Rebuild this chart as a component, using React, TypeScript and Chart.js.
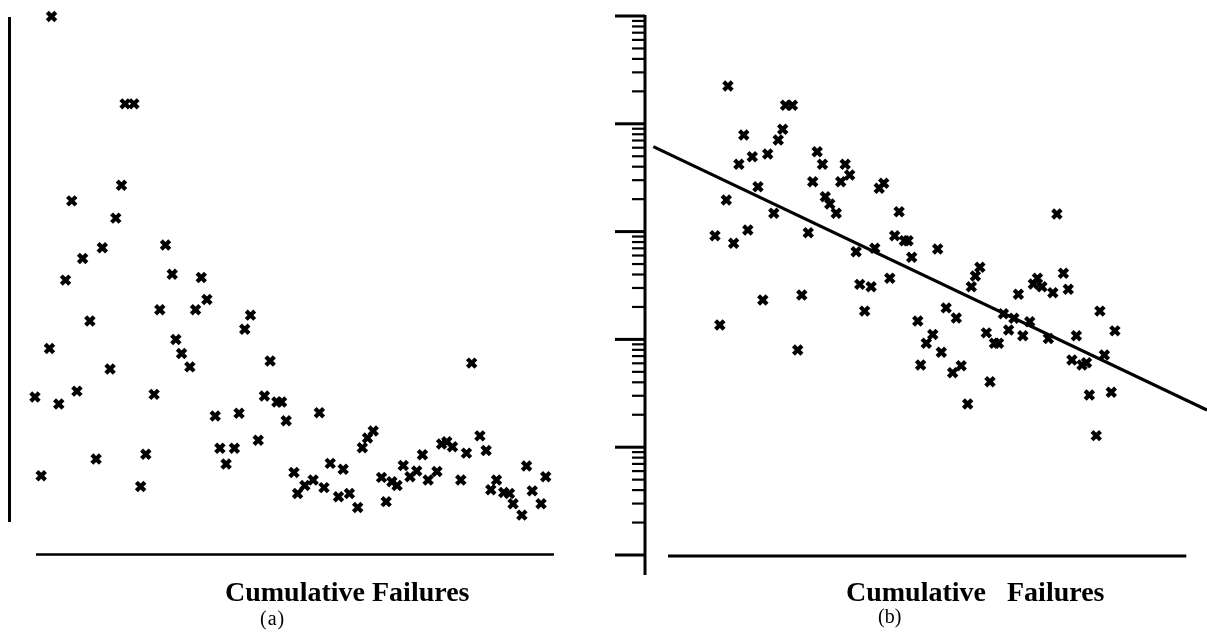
import { useEffect, useRef } from "react";
import { Chart, registerables } from "chart.js";

Chart.register(...registerables);

// Failure index along the horizontal axis (shared by both panels)
const cumulativeFailures = [
  -0.2, 1.0, 2.6, 3.0, 4.4, 5.7, 6.9, 7.9, 9.0, 10.4,
  11.6, 12.8, 14.3, 15.4, 16.5, 17.2, 18.9, 20.2, 21.2, 22.8,
  23.9, 25.0, 26.3, 27.0, 28.1, 29.7, 30.8, 31.9, 33.0, 34.6,
  35.5, 36.7, 38.3, 39.2, 40.3, 41.4, 42.9, 44.1, 45.2, 46.5,
  47.4, 48.3, 49.8, 50.5, 51.9, 53.5, 54.7, 55.6, 56.8, 58.4,
  59.3, 60.5, 62.1, 63.0, 64.0, 65.1, 66.7, 67.6, 68.7, 69.7,
  70.9, 72.2, 73.5, 74.6, 75.7, 77.4, 78.3, 79.3, 80.4, 82.0,
  83.1, 84.1, 85.7, 86.9, 87.8, 88.9, 90.3, 91.4, 92.1, 93.8,
  94.7, 95.8, 97.5, 98.4,
];

// Panel (a): values on a linear scale
const linearValues = [
  29.3, 14.7, 38.3, 99.9, 28.0, 51.0, 65.7, 30.4, 55.0, 43.4,
  17.8, 57.0, 34.5, 62.5, 68.6, 83.7, 83.7, 12.7, 18.7, 29.8,
  45.5, 57.5, 52.1, 40.0, 37.4, 34.9, 45.5, 51.5, 47.4, 25.8,
  19.8, 16.9, 19.8, 26.3, 41.9, 44.5, 21.3, 29.5, 36.0, 28.4,
  28.4, 24.9, 15.3, 11.4, 12.9, 13.9, 26.4, 12.5, 17.0, 10.8,
  15.9, 11.4, 8.8, 19.9, 21.7, 23.0, 14.4, 9.9, 13.6, 12.9,
  16.6, 14.5, 15.6, 18.6, 13.9, 15.5, 20.6, 21.0, 20.1, 13.9,
  18.9, 35.6, 22.1, 19.4, 12.1, 13.9, 11.6, 11.4, 9.5, 7.4,
  16.5, 11.9, 9.5, 14.5,
];

// Panel (b): values on a logarithmic scale
const logValues = [
  916, 136, 1963, 22430, 779, 4210, 7875, 1035, 4955, 2608,
  232, 5248, 1479, 7079, 8892, 14860, 14860, 79.8, 258, 977,
  2904, 5510, 4210, 2108, 1803, 1479, 2904, 4210, 3350, 651,
  324, 183, 308, 700, 2523, 2805, 369, 916, 1531, 824,
  824, 578, 148, 57.9, 92.0, 111, 690, 75.9, 196, 49.1,
  158, 57.0, 25.2, 308, 387, 467, 115, 40.5, 92.0, 92.0,
  173, 122, 157, 262, 108, 146, 327, 369, 308, 102,
  271, 1457, 410, 292, 64.4, 108, 57.9, 60.8, 30.5, 12.8,
  183, 71.7, 32.3, 120,
];

// Fitted straight line (log-linear) for panel (b)
const fitX = [-15.4, 121.1];
const fitY = [6135, 22.1];

// Log axis decades for panel (b)
const logDecades = [1, 10, 100, 1000, 10000, 100000];

const INK = "#000000";

const markerStyle = {
  pointStyle: "crossRot" as const,
  pointRadius: 6,
  pointHoverRadius: 6,
  borderColor: INK,
  backgroundColor: INK,
  borderWidth: 4.2,
  pointBorderWidth: 4.2,
  showLine: false,
  clip: false as const,
};

function buildLinearPanel(): any {
  return {
    type: "scatter",
    data: {
      datasets: [
        {
          ...markerStyle,
          data: cumulativeFailures.map((x, i) => ({ x, y: linearValues[i] })),
        },
      ],
    },
    options: {
      responsive: false,
      maintainAspectRatio: false,
      animation: false,
      devicePixelRatio: 1,
      events: [],
      layout: { padding: { left: 36, right: 46, top: 16, bottom: 82 } },
      plugins: { legend: { display: false }, tooltip: { enabled: false } },
      scales: {
        x: { type: "linear", min: 0, max: 100, display: false },
        y: { type: "linear", min: 0, max: 100, display: false },
      },
    },
    plugins: [
      {
        id: "linearFrame",
        beforeDatasetsDraw(chart: any) {
          const { ctx, chartArea: ca } = chart;
          ctx.save();
          ctx.strokeStyle = INK;
          ctx.lineCap = "butt";
          // vertical axis, set apart from the horizontal one
          ctx.lineWidth = 3;
          ctx.beginPath();
          ctx.moveTo(ca.left - 26.5, ca.top + 1);
          ctx.lineTo(ca.left - 26.5, ca.top + 506);
          ctx.stroke();
          // horizontal axis
          ctx.lineWidth = 2.7;
          ctx.beginPath();
          ctx.moveTo(ca.left, ca.bottom - 0.5);
          ctx.lineTo(ca.right, ca.bottom - 0.5);
          ctx.stroke();
          ctx.restore();
        },
      },
    ],
  };
}

function buildLogPanel(): any {
  return {
    type: "scatter",
    data: {
      datasets: [
        {
          ...markerStyle,
          data: cumulativeFailures.map((x, i) => ({ x, y: logValues[i] })),
        },
        {
          type: "line",
          data: fitX.map((x, i) => ({ x, y: fitY[i] })),
          borderColor: INK,
          borderWidth: 3.2,
          pointRadius: 0,
          pointHoverRadius: 0,
          tension: 0,
          fill: false,
          clip: false,
        },
      ],
    },
    options: {
      responsive: false,
      maintainAspectRatio: false,
      animation: false,
      devicePixelRatio: 1,
      events: [],
      layout: { padding: { left: 67.1, right: 20.7, top: 16, bottom: 82 } },
      plugins: { legend: { display: false }, tooltip: { enabled: false } },
      scales: {
        x: { type: "linear", min: -12, max: 116, display: false },
        y: { type: "logarithmic", min: 1, max: 100000, display: false },
      },
    },
    plugins: [
      {
        id: "logFrame",
        beforeDatasetsDraw(chart: any) {
          const { ctx, chartArea: ca } = chart;
          const ys = chart.scales.y;
          const axisX = ca.left - 22.1;
          const top = ys.getPixelForValue(logDecades[logDecades.length - 1]);
          const bottom = ys.getPixelForValue(logDecades[0]);
          ctx.save();
          ctx.strokeStyle = INK;
          ctx.lineCap = "butt";
          // vertical log axis
          ctx.lineWidth = 3;
          ctx.beginPath();
          ctx.moveTo(axisX, top - 1);
          ctx.lineTo(axisX, bottom + 20);
          ctx.stroke();
          // major ticks at each decade
          ctx.lineWidth = 3;
          for (const d of logDecades) {
            const py = ys.getPixelForValue(d);
            ctx.beginPath();
            ctx.moveTo(axisX - 30, py);
            ctx.lineTo(axisX, py);
            ctx.stroke();
          }
          // minor ticks 2..9 within each decade
          ctx.lineWidth = 2.2;
          for (let k = 0; k < logDecades.length - 1; k++) {
            for (let m = 2; m <= 9; m++) {
              const py = ys.getPixelForValue(logDecades[k] * m);
              ctx.beginPath();
              ctx.moveTo(axisX - 13, py);
              ctx.lineTo(axisX, py);
              ctx.stroke();
            }
          }
          // horizontal axis
          ctx.lineWidth = 3;
          ctx.beginPath();
          ctx.moveTo(ca.left + 0.9, ca.bottom + 1);
          ctx.lineTo(ca.right, ca.bottom + 1);
          ctx.stroke();
          ctx.restore();
        },
      },
    ],
  };
}

const SERIF = "'Liberation Serif', 'Times New Roman', serif";

function label(left: number, top: number, size: number, bold: boolean, extra: any = {}): any {
  return {
    position: "absolute",
    left,
    top,
    fontFamily: SERIF,
    fontSize: size,
    fontWeight: bold ? 700 : 400,
    lineHeight: `${size}px`,
    whiteSpace: "pre",
    color: INK,
    margin: 0,
    ...extra,
  };
}

export default function App() {
  const refA = useRef<HTMLCanvasElement | null>(null);
  const refB = useRef<HTMLCanvasElement | null>(null);

  useEffect(() => {
    const a = new Chart(refA.current as HTMLCanvasElement, buildLinearPanel());
    const b = new Chart(refB.current as HTMLCanvasElement, buildLogPanel());
    return () => {
      a.destroy();
      b.destroy();
    };
  }, []);

  return (
    <div
      style={{
        position: "absolute",
        left: 0,
        top: 0,
        width: 1207,
        height: 637,
        background: "#ffffff",
        overflow: "hidden",
      }}
    >
      <canvas
        ref={refA}
        width={600}
        height={637}
        style={{ position: "absolute", left: 0, top: 0, width: 600, height: 637 }}
      />
      <canvas
        ref={refB}
        width={607}
        height={637}
        style={{ position: "absolute", left: 600, top: 0, width: 607, height: 637 }}
      />
      <div style={label(225, 577.5, 28, true)}>Cumulative Failures</div>
      <div style={label(260, 607.8, 20, false, { letterSpacing: "1px" })}>(a)</div>
      <div style={label(846, 577.5, 28, true)}>{"Cumulative   Failures"}</div>
      <div style={label(878, 605.8, 20, false)}>(b)</div>
    </div>
  );
}
